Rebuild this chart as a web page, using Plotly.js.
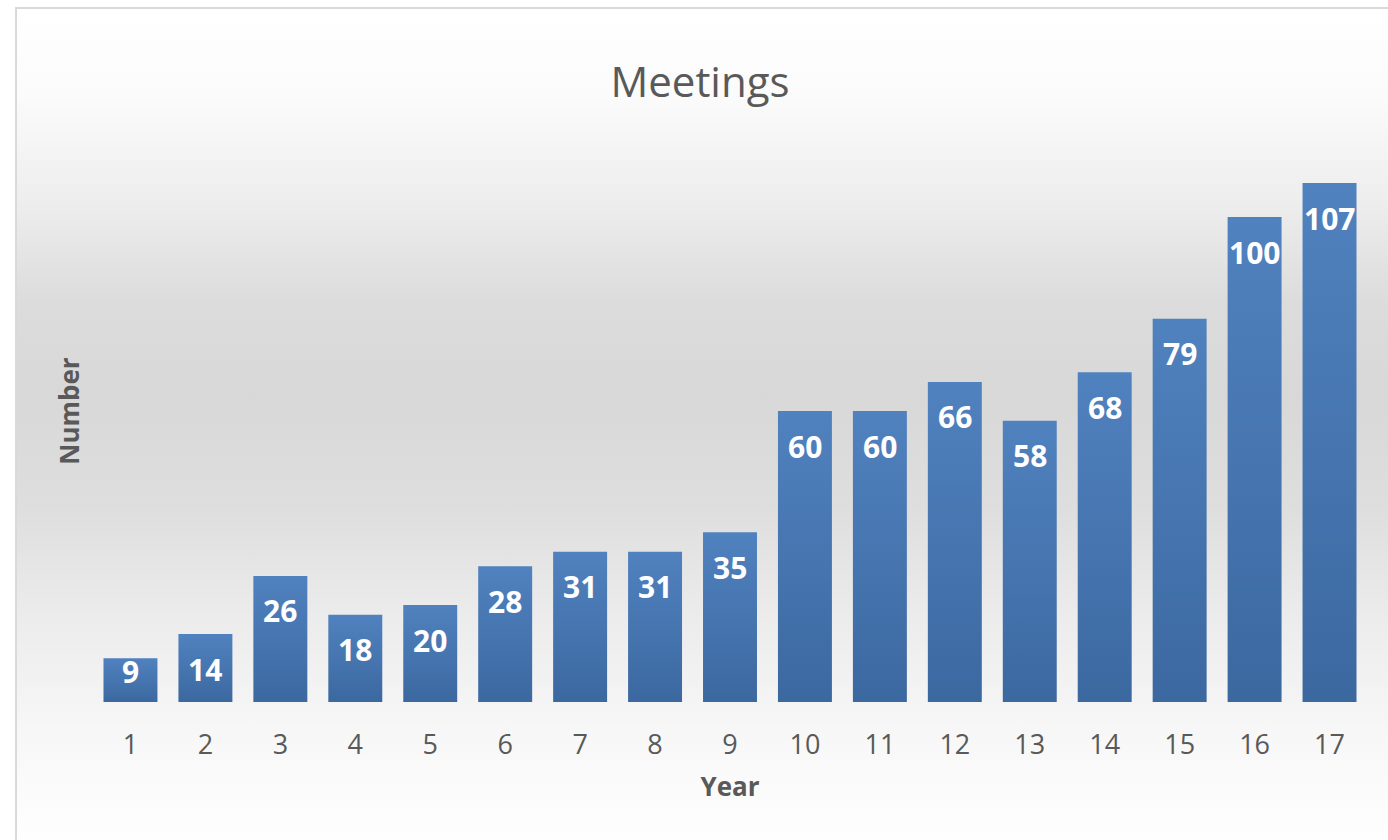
<!DOCTYPE html>
<html>
<head>
<meta charset="utf-8">
<script src="https://cdn.plot.ly/plotly-3.0.1.min.js"></script>
<style>
  html, body { margin: 0; padding: 0; width: 1388px; height: 840px; overflow: hidden; background: #ffffff; }
  #bg {
    position: absolute; left: 15px; top: 7px; width: 1400px; height: 860px;
    border-left: 2px solid #d9d9d9; border-top: 2px solid #d9d9d9;
    background: linear-gradient(to bottom, #ffffff 0%, #fbfbfb 10%, #eeeeee 22%, #dcdcdc 34%, #d8d8d8 45%, #dedede 58%, #ebebeb 70%, #f7f7f7 84%, #ffffff 98%);
  }
  #chart { position: absolute; left: 0; top: 0; width: 1388px; height: 840px; }
</style>
</head>
<body>
<div id="bg"></div>
<div id="chart"></div>
<script>
const years = ['1','2','3','4','5','6','7','8','9','10','11','12','13','14','15','16','17'];
const meetings = [9, 14, 26, 18, 20, 28, 31, 31, 35, 60, 60, 66, 58, 68, 79, 100, 107];
const chartTitle = 'Meetings';
const xTitle = 'Year';
const yTitle = 'Number';

const FONT = '"Open Sans", "Liberation Sans", sans-serif';
const GREY = '#595959';
const Y_MAX = 120;
const PLOT_H = 702 - 120;
const pxPerUnit = PLOT_H / Y_MAX;

const trace = {
  type: 'bar',
  x: years,
  y: meetings,
  marker: { color: '#4675b0', line: { width: 0 } },
  hoverinfo: 'x+y'
};

// category axis: annotation x given as category index
const annotations = years.map((yr, i) => {
  const h = meetings[i] * pxPerUnit;
  const shift = h < 60 ? -13 : -35;
  return {
    x: i, y: meetings[i], xref: 'x', yref: 'y',
    text: String(meetings[i]), showarrow: false,
    yanchor: 'middle', xanchor: 'center', yshift: shift,
    font: { family: FONT, size: 30, color: '#ffffff', weight: 700 }
  };
});

const layout = {
  width: 1388, height: 840,
  paper_bgcolor: 'rgba(0,0,0,0)',
  plot_bgcolor: 'rgba(0,0,0,0)',
  margin: { l: 92.5, r: 20.5, t: 120, b: 138, pad: 0 },
  bargap: 0.28,
  showlegend: false,
  title: {
    text: chartTitle,
    font: { family: FONT, size: 42, color: GREY },
    xref: 'container', x: 700 / 1388, xanchor: 'center',
    yref: 'container', y: 1 - 82 / 840, yanchor: 'middle'
  },
  xaxis: {
    type: 'category',
    range: [-0.5, years.length - 0.5],
    showgrid: false, zeroline: false, showline: false,
    ticks: 'outside', ticklen: 19, tickcolor: 'rgba(0,0,0,0)',
    tickfont: { family: FONT, size: 27, color: GREY },
    title: { text: xTitle, standoff: 16, font: { family: FONT, size: 26, color: GREY, weight: 700 } },
    automargin: false
  },
  yaxis: {
    range: [0, Y_MAX],
    showgrid: false, zeroline: false, showline: false,
    showticklabels: false, ticks: '',
    title: { text: yTitle, standoff: 4, font: { family: FONT, size: 26, color: GREY, weight: 700 } },
    automargin: false
  },
  annotations: annotations
};

Plotly.newPlot('chart', [trace], layout, { displayModeBar: false, staticPlot: true }).then(gd => {
  const svg = gd.querySelector('.main-svg');
  const ns = 'http://www.w3.org/2000/svg';
  let defs = svg.querySelector('defs');
  if (!defs) { defs = document.createElementNS(ns, 'defs'); svg.insertBefore(defs, svg.firstChild); }
  const grad = document.createElementNS(ns, 'linearGradient');
  grad.setAttribute('id', 'barGrad');
  grad.setAttribute('x1', '0'); grad.setAttribute('y1', '0');
  grad.setAttribute('x2', '0'); grad.setAttribute('y2', '1');
  [['0%', '#5082bf'], ['100%', '#3c68a0']].forEach(([o, c]) => {
    const s = document.createElementNS(ns, 'stop');
    s.setAttribute('offset', o); s.setAttribute('stop-color', c);
    grad.appendChild(s);
  });
  defs.appendChild(grad);
  gd.querySelectorAll('.bars .point path').forEach(p => { p.style.fill = 'url(#barGrad)'; });
});
</script>
</body>
</html>
